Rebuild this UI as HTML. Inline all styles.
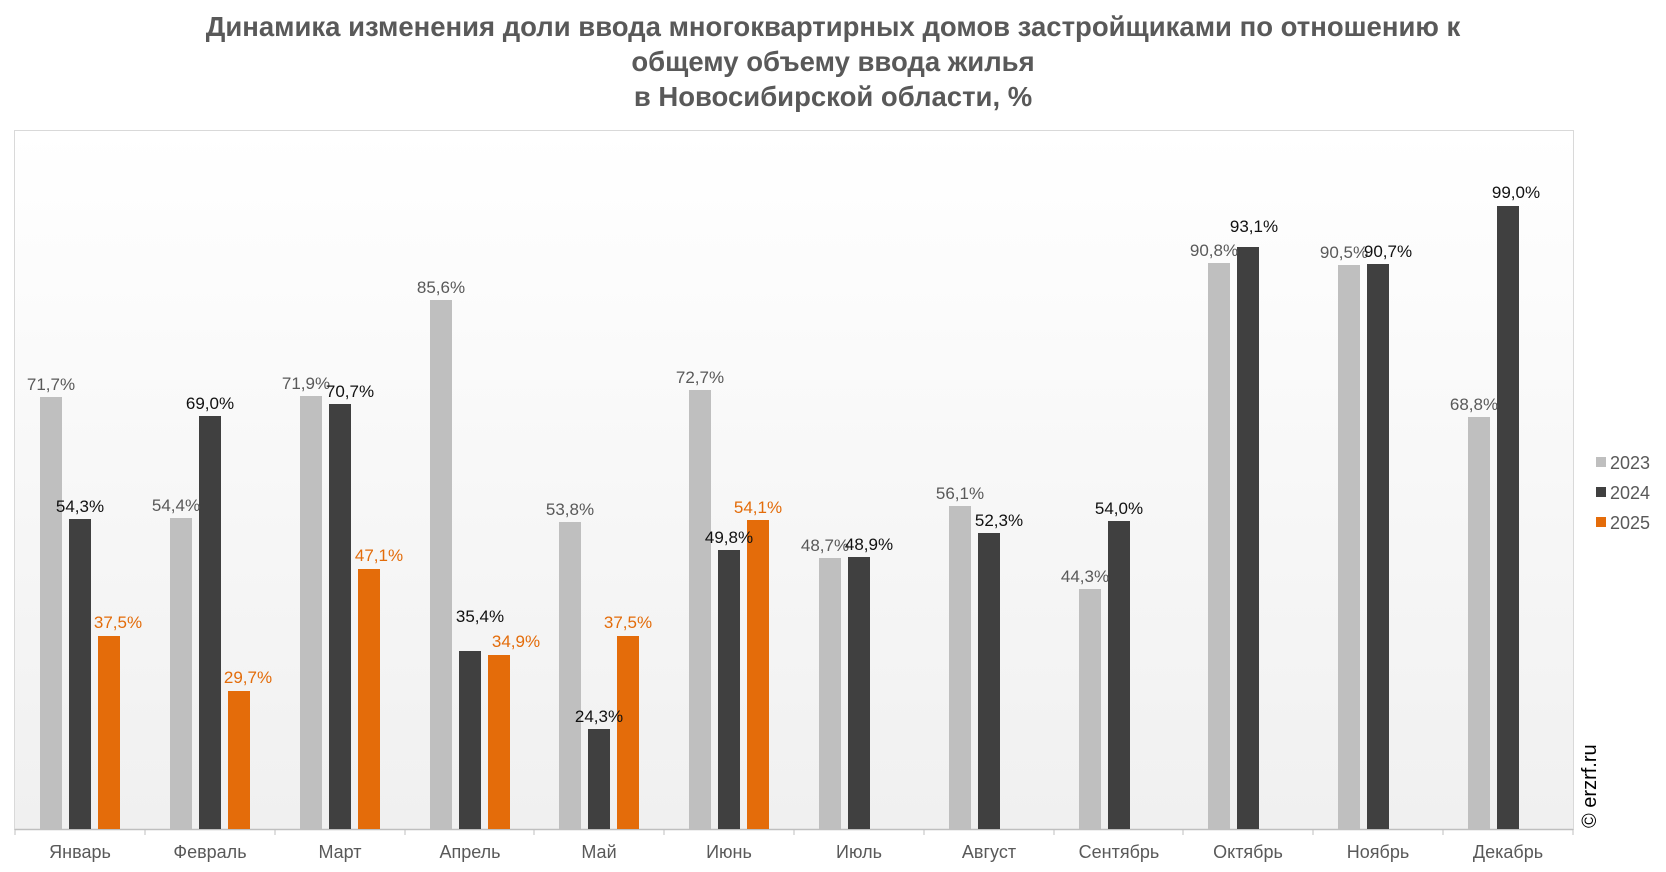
<!DOCTYPE html>
<html><head><meta charset="utf-8"><style>
body{margin:0;background:#fff;}
svg{display:block;font-family:"Liberation Sans",sans-serif;}
</style></head><body>
<svg width="1666" height="872" xmlns="http://www.w3.org/2000/svg">
<defs><linearGradient id="g" x1="0" y1="0" x2="0" y2="1"><stop offset="0" stop-color="#ffffff"/><stop offset="1" stop-color="#f0f0f0"/></linearGradient></defs>
<g font-weight="bold" font-size="27.5" fill="#595959" text-anchor="middle">
<text x="833" y="36">Динамика изменения доли ввода многоквартирных домов застройщиками по отношению к</text>
<text x="833" y="71">общему объему ввода жилья</text>
<text x="833" y="106">в Новосибирской области, %</text>
</g>
<rect x="14.5" y="130.5" width="1559" height="699" fill="url(#g)" stroke="#d9d9d9"/>
<line x1="15" y1="829.5" x2="1573" y2="829.5" stroke="#bfbfbf" stroke-width="1.5"/>
<g stroke="#bfbfbf">
<line x1="15" y1="829" x2="15" y2="835"/><line x1="145" y1="829" x2="145" y2="835"/><line x1="275" y1="829" x2="275" y2="835"/><line x1="405" y1="829" x2="405" y2="835"/><line x1="534" y1="829" x2="534" y2="835"/><line x1="664" y1="829" x2="664" y2="835"/><line x1="794" y1="829" x2="794" y2="835"/><line x1="924" y1="829" x2="924" y2="835"/><line x1="1054" y1="829" x2="1054" y2="835"/><line x1="1183" y1="829" x2="1183" y2="835"/><line x1="1313" y1="829" x2="1313" y2="835"/><line x1="1443" y1="829" x2="1443" y2="835"/><line x1="1573" y1="829" x2="1573" y2="835"/>
</g>
<g fill="#bfbfbf">
<rect x="40" y="397" width="22" height="432"/><rect x="170" y="518" width="22" height="311"/><rect x="300" y="396" width="22" height="433"/><rect x="430" y="300" width="22" height="529"/><rect x="559" y="522" width="22" height="307"/><rect x="689" y="390" width="22" height="439"/><rect x="819" y="558" width="22" height="271"/><rect x="949" y="506" width="22" height="323"/><rect x="1079" y="589" width="22" height="240"/><rect x="1208" y="263" width="22" height="566"/><rect x="1338" y="265" width="22" height="564"/><rect x="1468" y="417" width="22" height="412"/>
</g>
<g fill="#404040">
<rect x="69" y="519" width="22" height="310"/><rect x="199" y="416" width="22" height="413"/><rect x="329" y="404" width="22" height="425"/><rect x="459" y="651" width="22" height="178"/><rect x="588" y="729" width="22" height="100"/><rect x="718" y="550" width="22" height="279"/><rect x="848" y="557" width="22" height="272"/><rect x="978" y="533" width="22" height="296"/><rect x="1108" y="521" width="22" height="308"/><rect x="1237" y="247" width="22" height="582"/><rect x="1367" y="264" width="22" height="565"/><rect x="1497" y="206" width="22" height="623"/>
</g>
<g fill="#e46c0a">
<rect x="98" y="636" width="22" height="193"/><rect x="228" y="691" width="22" height="138"/><rect x="358" y="569" width="22" height="260"/><rect x="488" y="655" width="22" height="174"/><rect x="617" y="636" width="22" height="193"/><rect x="747" y="520" width="22" height="309"/>
</g>
<g font-size="17" text-anchor="middle" fill="#595959">
<text x="51" y="390">71,7%</text><text x="176" y="511">54,4%</text><text x="306" y="389">71,9%</text><text x="441" y="293">85,6%</text><text x="570" y="515">53,8%</text><text x="700" y="383">72,7%</text><text x="825" y="551">48,7%</text><text x="960" y="499">56,1%</text><text x="1085" y="582">44,3%</text><text x="1214" y="256">90,8%</text><text x="1344" y="258">90,5%</text><text x="1474" y="410">68,8%</text>
</g>
<g font-size="17" text-anchor="middle" fill="#111">
<text x="80" y="512">54,3%</text><text x="210" y="409">69,0%</text><text x="350" y="397">70,7%</text><text x="480" y="622">35,4%</text><text x="599" y="722">24,3%</text><text x="729" y="543">49,8%</text><text x="869" y="550">48,9%</text><text x="999" y="526">52,3%</text><text x="1119" y="514">54,0%</text><text x="1254" y="232">93,1%</text><text x="1388" y="257">90,7%</text><text x="1516" y="198">99,0%</text>
</g>
<g font-size="17" text-anchor="middle" fill="#e36c0a">
<text x="118" y="628">37,5%</text><text x="248" y="683">29,7%</text><text x="379" y="561">47,1%</text><text x="516" y="647">34,9%</text><text x="628" y="628">37,5%</text><text x="758" y="513">54,1%</text>
</g>
<g font-size="18" text-anchor="middle" fill="#595959">
<text x="80" y="858">Январь</text><text x="210" y="858">Февраль</text><text x="340" y="858">Март</text><text x="470" y="858">Апрель</text><text x="599" y="858">Май</text><text x="729" y="858">Июнь</text><text x="859" y="858">Июль</text><text x="989" y="858">Август</text><text x="1119" y="858">Сентябрь</text><text x="1248" y="858">Октябрь</text><text x="1378" y="858">Ноябрь</text><text x="1508" y="858">Декабрь</text>
</g>
<rect x="1596" y="457" width="10" height="10" fill="#bfbfbf"/><rect x="1596" y="487" width="10" height="10" fill="#404040"/><rect x="1596" y="517" width="10" height="10" fill="#e46c0a"/>
<g font-size="18" fill="#595959"><text x="1610" y="469">2023</text><text x="1610" y="499">2024</text><text x="1610" y="529">2025</text></g>
<text transform="translate(1596,828) rotate(-90)" font-size="20" fill="#000">© erzrf.ru</text>
</svg>
</body></html>
